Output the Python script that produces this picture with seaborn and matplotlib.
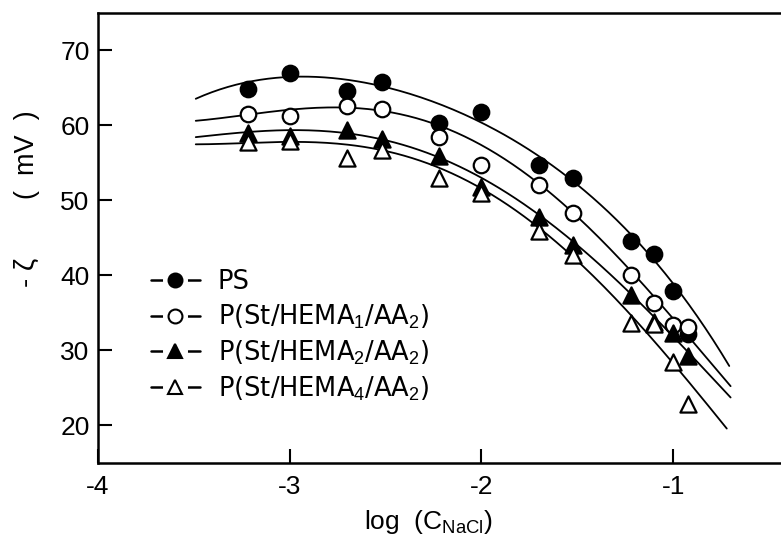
import numpy as np
import pandas as pd
import matplotlib
matplotlib.use("Agg")
import matplotlib.pyplot as plt
from matplotlib.lines import Line2D
import seaborn as sns

# ---- data ----
log_c = [-3.22, -3.0, -2.70, -2.52, -2.22, -2.0, -1.70, -1.52, -1.22, -1.10, -1.0, -0.92]
ps = [64.8, 66.9, 64.5, 65.8, 60.3, 61.7, 54.7, 53.0, 44.6, 42.9, 37.9, 32.2]
hema1 = [61.5, 61.2, 62.6, 62.1, 58.4, 54.7, 52.0, 48.3, 40.0, 36.3, 33.4, 33.1]
hema2 = [58.9, 58.6, 59.4, 58.1, 55.9, 51.7, 47.7, 44.1, 37.4, 33.8, 32.3, 29.3]
hema4 = [57.8, 57.9, 55.6, 56.7, 53.0, 51.0, 45.9, 42.7, 33.7, 33.5, 28.4, 22.9]

# points
curve_ps_x = [-3.49, -3.2, -2.96, -2.5, -2.0, -1.73, -1.49, -1.225, -0.96, -0.707]
curve_ps_y = [63.6, 65.6, 66.5, 65.4, 60.0, 56.1, 52.3, 45.7, 37.3, 28.0]
curve_h1_x = [-3.49, -3.0, -2.7, -2.5, -2.0, -1.70, -1.52, -1.225, -0.96, -0.70]
curve_h1_y = [60.6, 61.9, 62.4, 62.1, 56.9, 52.1, 48.8, 40.6, 32.9, 25.3]
curve_h2_x = [-3.49, -3.0, -2.7, -2.0, -1.70, -1.52, -1.225, -0.96, -0.70]
curve_h2_y = [58.4, 59.3, 59.0, 52.8, 48.1, 44.6, 37.7, 30.6, 23.8]
curve_h4_x = [-3.49, -3.0, -2.0, -1.70, -1.52, -1.225, -0.96, -0.72]
curve_h4_y = [57.4, 57.9, 51.0, 46.6, 43.0, 34.6, 26.7, 19.8]

labels = ["PS", r"P(St/HEMA$_{1}$/AA$_{2}$)", r"P(St/HEMA$_{2}$/AA$_{2}$)",
          r"P(St/HEMA$_{4}$/AA$_{2}$)"]
x_ticks = [-4, -3, -2, -1]
x_ticklabels = ["-4", "-3", "-2", "-1"]
y_ticks = [20, 30, 40, 50, 60, 70]

sns.set_style("ticks")
plt.rcParams["font.family"] = ["Liberation Sans", "DejaVu Sans"]
plt.rcParams["mathtext.fontset"] = "custom"
plt.rcParams["mathtext.rm"] = "Liberation Sans"
plt.rcParams["mathtext.it"] = "Liberation Sans"
plt.rcParams["axes.unicode_minus"] = False
plt.rcParams["text.color"] = "black"

W, H = 781, 537
fig = plt.figure(figsize=(W / 100, H / 100), dpi=100)
ax = fig.add_axes([98 / W, 1 - 463 / H, (W - 98) / W, (463 - 12.5) / H])

series = [ps, hema1, hema2, hema4]
curves = [(curve_ps_x, curve_ps_y), (curve_h1_x, curve_h1_y),
          (curve_h2_x, curve_h2_y), (curve_h4_x, curve_h4_y)]
styles = [dict(marker="o", color="black", edgecolor="black", s=125),
          dict(marker="o", color="white", edgecolor="black", s=125),
          dict(marker="^", color="black", edgecolor="black", s=135),
          dict(marker="^", color="white", edgecolor="black", s=135)]

for (cx, cy) in curves:
    coef = np.polyfit(cx, cy, 4)
    xs = np.linspace(cx[0], cx[-1], 200)
    dfc = pd.DataFrame({"x": xs, "y": np.polyval(coef, xs)})
    sns.lineplot(data=dfc, x="x", y="y", ax=ax, color="black", lw=1.3,
                 sort=False, zorder=2)

for vals, st in zip(series, styles):
    dfp = pd.DataFrame({"x": log_c, "y": vals})
    sns.scatterplot(data=dfp, x="x", y="y", ax=ax, linewidth=1.6, zorder=3,
                    legend=False, **st)

ax.set_xlim(-4, -4 + (W - 98) / 191.7)
ax.set_ylim(15, 75)
ax.set_xticks(x_ticks)
ax.set_xticklabels(x_ticklabels)
ax.set_yticks(y_ticks)
ax.set_xlabel("")
ax.set_ylabel("")
ax.tick_params(direction="in", length=10, width=1.5, labelsize=19,
               colors="black", labelcolor="black")
ax.tick_params(axis="x", pad=9)
ax.tick_params(axis="y", pad=6)
for side in ["left", "bottom", "top"]:
    ax.spines[side].set_linewidth(1.8)
    ax.spines[side].set_color("black")
ax.spines["right"].set_visible(False)

handles = []
for st in styles:
    gap = Line2D([0], [0], color="black", lw=1.8, marker="o",
                 markerfacecolor="white", markeredgecolor="white", markersize=17)
    mk = Line2D([0], [0], lw=0, marker=st["marker"],
                markerfacecolor=st["color"], markeredgecolor="black",
                markeredgewidth=1.5, markersize=10)
    handles.append((gap, mk))
leg = ax.legend(handles, labels, loc="upper left", frameon=False,
                bbox_to_anchor=(138 / W, 1 - 256 / H), bbox_transform=fig.transFigure,
                handlelength=1.9, handletextpad=0.7, labelspacing=0.3,
                borderpad=0, prop={"family": ["DejaVu Sans"], "size": 18.5})
for t in leg.get_texts():
    t.set_color("black")

fig.text(428 / W, 1 - 522 / H, r"log  (C$_{\mathrm{NaCl}}$)", ha="center", va="center",
         fontsize=19, color="black")
fig.text(27 / W, 1 - 155 / H, "(  mV  )", rotation=90, ha="center", va="center",
         fontsize=19.5, color="black")
fig.text(27 / W, 1 - 272 / H, "- ζ", rotation=90, ha="center", va="center",
         fontsize=20, color="black")

fig.savefig("out.png", dpi=100)
